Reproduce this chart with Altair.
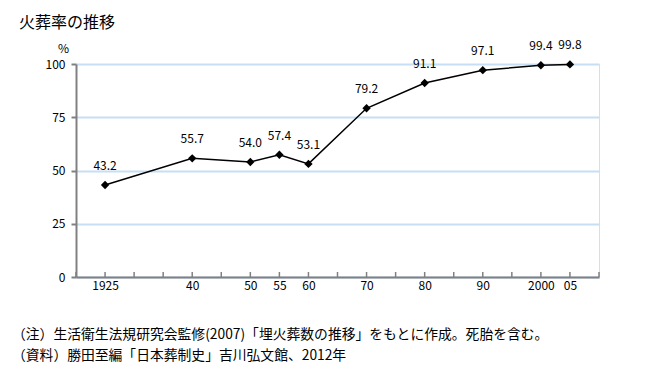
import altair as alt
import pandas as pd

years = [1925, 1940, 1950, 1955, 1960, 1970, 1980, 1990, 2000, 2005]
rates = [43.2, 55.7, 54.0, 57.4, 53.1, 79.2, 91.1, 97.1, 99.4, 99.8]
tick_labels = ["1925", "40", "50", "55", "60", "70", "80", "90", "2000", "05"]
tick_years = list(range(1920, 2011, 5))
y_ticks = [0, 25, 50, 75, 100]

title_text = "火葬率の推移"
note_lines = [
    "（注）生活衛生法規研究会監修(2007)「埋火葬数の推移」をもとに作成。死胎を含む。",
    "（資料）勝田至編「日本葬制史」吉川弘文館、2012年",
]

FONT = "Noto Sans CJK JP"
AXIS_GRAY = "#808080"

df = pd.DataFrame({"year": years, "rate": rates})
ticks_df = pd.DataFrame({"year": tick_years})

label_expr = ""
for yv, lab in zip(years, tick_labels):
    label_expr += f"datum.value == {yv} ? '{lab}' : "
label_expr += "''"

x_scale = alt.Scale(domain=[1920, 2010], nice=False, zero=False)
y_scale = alt.Scale(domain=[0, 100], nice=False)

x_enc = alt.X(
    "year:Q",
    scale=x_scale,
    axis=alt.Axis(
        values=tick_years,
        labelExpr=label_expr,
        ticks=False,
        grid=False,
        title=None,
        domainColor=AXIS_GRAY,
        domainWidth=2,
        labelFont=FONT,
        labelFontSize=12,
        labelColor="#000000",
        labelPadding=3,
        labelFlush=False,
        labelOverlap=False,
    ),
)
y_enc = alt.Y(
    "rate:Q",
    scale=y_scale,
    axis=alt.Axis(
        values=y_ticks,
        grid=True,
        gridColor="#c6dff5",
        gridWidth=2,
        domainColor=AXIS_GRAY,
        domainWidth=2,
        tickColor=AXIS_GRAY,
        tickSize=5,
        tickWidth=2,
        labelFont=FONT,
        labelFontSize=12,
        labelColor="#000000",
        labelPadding=6,
        title="%",
        titleFont=FONT,
        titleFontSize=12,
        titleFontWeight="normal",
        titleColor="#000000",
        titleAngle=0,
        titleAlign="center",
        titleBaseline="middle",
        titleX=-13,
        titleY=-16,
    ),
)

line = alt.Chart(df).mark_line(color="#000000", strokeWidth=1.5).encode(x=x_enc, y=y_enc)
points = alt.Chart(df).mark_point(
    shape="diamond", filled=True, color="#000000", size=70, opacity=1
).encode(x=x_enc, y=y_enc)
labels = alt.Chart(df).mark_text(
    dy=-19, font=FONT, fontSize=12, color="#000000", baseline="middle"
).encode(x=x_enc, y=y_enc, text=alt.Text("rate:Q", format=".1f"))

xticks = alt.Chart(ticks_df).mark_rule(color=AXIS_GRAY, strokeWidth=1.5).encode(
    x=x_enc, y=alt.value(208), y2=alt.value(213)
)

note1 = alt.Chart(pd.DataFrame({"t": [note_lines[0]]})).mark_text(
    font=FONT, fontSize=13.8, color="#000000", align="left", baseline="middle"
).encode(text="t:N", x=alt.value(-64), y=alt.value(271))
note2 = alt.Chart(pd.DataFrame({"t": [note_lines[1]]})).mark_text(
    font=FONT, fontSize=13.8, color="#000000", align="left", baseline="middle"
).encode(text="t:N", x=alt.value(-64), y=alt.value(292))

chart = alt.layer(line, xticks, points, labels, note1, note2).properties(
    title=alt.TitleParams(
        text=title_text,
        anchor="start",
        frame="group",
        dx=-57,
        offset=8,
        font=FONT,
        fontSize=16,
        fontWeight="normal",
        color="#000000",
    ),
    width=523,
    height=213,
    padding={"left": 68, "top": 56, "right": 40, "bottom": 86},
    autosize=alt.AutoSizeParams(type="none"),
).configure_view(stroke=None).configure(background="white").configure_axisX(
    labelOverlap=False
)

chart.save("out.html", embed_options={"renderer": "svg", "actions": False})
